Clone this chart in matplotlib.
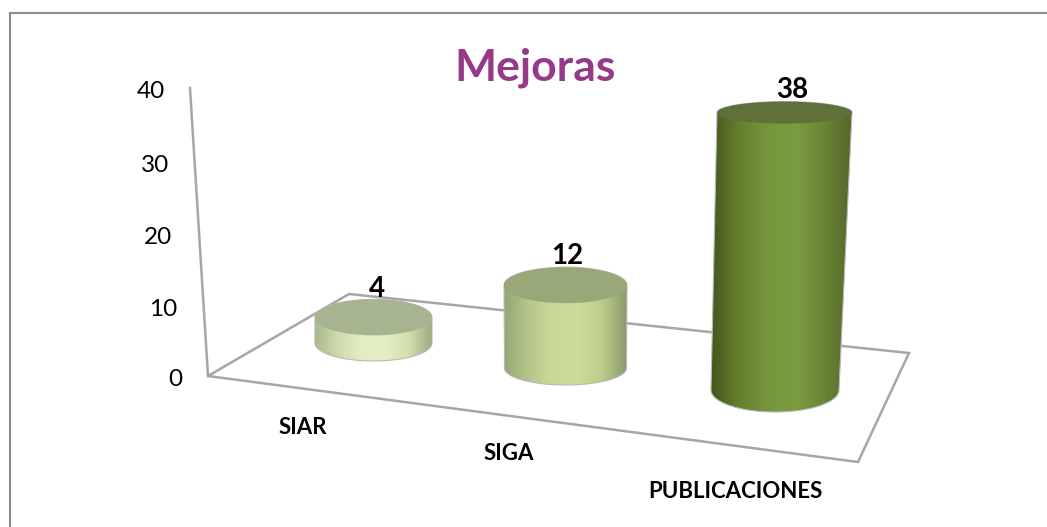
import numpy as np
import matplotlib
matplotlib.use("Agg")
import matplotlib.pyplot as plt
from matplotlib.colors import LinearSegmentedColormap
from matplotlib.patches import PathPatch, Polygon, Ellipse
from matplotlib.path import Path

plt.rcParams['font.family'] = ['Lato', 'DejaVu Sans']

# ---- data ----
title = "Mejoras"
categories = ["SIAR", "SIGA", "PUBLICACIONES"]
values = [4, 12, 38]
y_ticks = [0, 10, 20, 30, 40]

# ---- layout (pixel space of the projected 3-D scene) ----
W, H = 1047, 527
floor = [(208, 376), (349, 294), (909, 353), (858, 462)]
axis_top = (190, 88)
tick_px = [379, 309, 238, 166, 92]
tick_right = [182, 177, 172, 169, 165]
unit_px = [6.4, 6.9, 7.3]
base_y = [343, 368, 390]
top_cx = [373.5, 565.5, 784.5]
top_a = [58.5, 61.5, 67.5]
top_ry = [18, 18, 11]
base_cx = [373.5, 565.5, 775]
base_a = [58.5, 61, 64]
base_ry = [18, 17, 22]
cat_xy = [(303, 427), (509, 453.5), (735, 492)]
val_xy = [(376.5, 289), (567, 255.5), (792.5, 89.5)]
side_stops = [
    ["#a9b88e", "#cfdcae", "#e3edc3", "#e4eec4", "#d3dfae", "#9dab80"],
    ["#94a676", "#b5c68a", "#c9da98", "#ccdd99", "#bccd8c", "#8a996c"],
    ["#46561f", "#64802f", "#76963c", "#7c9c42", "#6a8636", "#556829"],
]
top_colors = ["#a6b58f", "#98a878", "#5f7138"]

fig = plt.figure(figsize=(W / 100, H / 100), dpi=100, facecolor="white")
ax = fig.add_axes([0, 0, 1, 1])
ax.set_xlim(0, W)
ax.set_ylim(H, 0)
ax.axis("off")

# chart frame: only the top and left edges fall inside the picture
ax.plot([W, 10, 10], [13, 13, H], color="#8c8c8c", lw=1.5, zorder=1,
        solid_joinstyle="miter")

# 3-D walls / floor outline
wall = "#a6a6a6"
ax.add_patch(Polygon(floor, closed=True, fill=False, ec=wall, lw=1.8, zorder=2))
ax.plot([axis_top[0], floor[0][0]], [axis_top[1], floor[0][1]], color=wall, lw=1.8, zorder=2)


def arc(cx, cy, a, b, t0, t1, n=60):
    t = np.linspace(t0, t1, n)
    return np.column_stack([cx + a * np.cos(t), cy + b * np.sin(t)])


for i, v in enumerate(values):
    yb = base_y[i]
    yt = yb - v * unit_px[i]
    upper = arc(top_cx[i], yt, top_a[i], top_ry[i], np.pi, 2 * np.pi)
    lower = arc(base_cx[i], yb, base_a[i], base_ry[i], 0, np.pi)
    pts = np.vstack([upper, lower, upper[:1]])
    clip = PathPatch(Path(pts), fc="none", ec="#b8b8b8", lw=0.8, zorder=3.2)
    ax.add_patch(clip)
    cmap = LinearSegmentedColormap.from_list("side", side_stops[i])
    xmin, xmax = pts[:, 0].min(), pts[:, 0].max()
    ymin, ymax = pts[:, 1].min(), pts[:, 1].max()
    im = ax.imshow(np.linspace(0, 1, 256)[None, :], cmap=cmap, aspect="auto",
                   extent=(xmin, xmax, ymax, ymin), zorder=3, interpolation="bilinear")
    im.set_clip_path(clip)
    ax.add_patch(Ellipse((top_cx[i], yt), 2 * top_a[i], 2 * top_ry[i],
                         fc=top_colors[i], ec="none", zorder=3.5))
    ax.text(val_xy[i][0], val_xy[i][1], str(v), ha="center", va="center",
            fontsize=20, fontweight="bold", color="black", zorder=5)
    ax.text(cat_xy[i][0], cat_xy[i][1], categories[i], ha="center", va="center",
            fontsize=16, fontweight="bold", color="black", zorder=5)

ax.set_xlim(0, W)
ax.set_ylim(H, 0)

for t, yp, xr in zip(y_ticks, tick_px, tick_right):
    ax.text(xr, yp, str(t), ha="right", va="center", fontsize=17.5, color="black", zorder=5)

ax.text(535.5, 67.5, title, ha="center", va="center", fontsize=32, fontweight="bold",
        color="#953a88", zorder=5)

fig.savefig("out.png", dpi=100, facecolor="white")
